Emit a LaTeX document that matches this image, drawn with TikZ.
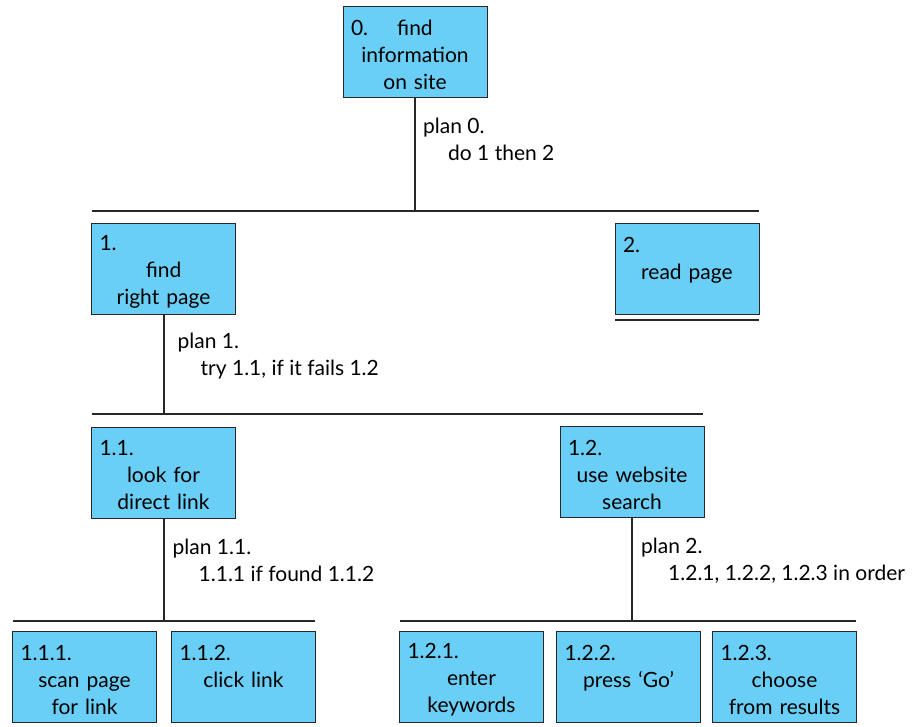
\documentclass[tikz,border=0pt]{standalone}
\usepackage{fontspec}
\setmainfont{Lato}
\usetikzlibrary{positioning}

\definecolor{taskblue}{RGB}{106,207,246}
\definecolor{inkdark}{RGB}{40,38,40}
\newcommand{\tasknum}[2]{\makebox[128pt]{\rule{0pt}{21pt}\rlap{#1}\hfill#2\hfill}}

\tikzset{
  task/.style={draw=inkdark, line width=1pt, fill=taskblue, minimum width=144pt,
    minimum height=91pt, text width=128pt, align=center,
    font=\fontsize{21}{27}\selectfont},
  plan/.style={anchor=north west, inner sep=0pt, align=left,
    font=\fontsize{21}{27}\selectfont},
  bar/.style={draw=inkdark, line width=2.6pt},
  stem/.style={draw=inkdark, line width=2pt}
}

\begin{document}
\begin{tikzpicture}[x=1pt,y=-1pt]
  \useasboundingbox (0,0) rectangle (920,726);
  % tasks
  \node[task] (t0) at (415,52) {\tasknum{0.}{find}\\information\\on site};
  \node[task] (t1) at (163.5,269) {\tasknum{1.}{}\\find\\right page};
  \node[task] (t2) at (687,269) {\tasknum{2.}{}\\read page\\\mbox{}};
  \node[task] (t11) at (163.5,472.5) {\tasknum{1.1.}{}\\look for\\direct link};
  \node[task] (t12) at (632,472) {\tasknum{1.2.}{}\\use website\\search};
  \node[task] (t111) at (84.5,677) {\tasknum{1.1.1.}{}\\scan page\\for link};
  \node[task] (t112) at (243.5,677) {\tasknum{1.1.2.}{}\\click link\\\mbox{}};
  \node[task] (t121) at (471.5,677) {\tasknum{1.2.1.}{}\\enter\\keywords};
  \node[task] (t122) at (628.5,677) {\tasknum{1.2.2.}{}\\press `Go'\\\mbox{}};
  \node[task] (t123) at (784.5,677) {\tasknum{1.2.3.}{}\\choose\\from results};

  % plans
  \node[plan] (p0) at ([xshift=8pt,yshift=-20pt]t0.south) {plan 0.\\\hspace*{25pt}do 1 then 2};
  \node[plan] (p1) at ([xshift=14pt,yshift=-18pt]t1.south) {plan 1.\\\hspace*{23pt}try 1.1, if it fails 1.2};
  \node[plan] (p11) at ([xshift=9pt,yshift=-20pt]t11.south) {plan 1.1.\\\hspace*{26pt}1.1.1 if found 1.1.2};
  \node[plan] (p12) at ([xshift=9pt,yshift=-20pt]t12.south) {plan 2.\\\hspace*{27pt}1.2.1, 1.2.2, 1.2.3 in order};

  % bars
  \coordinate (b0l) at (92,211);   \coordinate (b0r) at (759,211);
  \coordinate (b2l) at (615,320);  \coordinate (b2r) at (759,320);
  \coordinate (b1l) at (92,414);   \coordinate (b1r) at (703,414);
  \coordinate (b11l) at (13,621);  \coordinate (b11r) at (315,621);
  \coordinate (b12l) at (400,621); \coordinate (b12r) at (856,621);
  \draw[bar] (b0l) -- (b0r);
  \draw[bar] (b2l) -- (b2r);
  \draw[bar] (b1l) -- (b1r);
  \draw[bar] (b11l) -- (b11r);
  \draw[bar] (b12l) -- (b12r);

  % stems
  \draw[stem] (t0.south) -- (t0.south |- b0l);
  \draw[stem] (t1.south) -- (t1.south |- b1l);
  \draw[stem] (t11.south) -- (t11.south |- b11l);
  \draw[stem] (t12.south) -- (t12.south |- b12l);
\end{tikzpicture}
\end{document}
